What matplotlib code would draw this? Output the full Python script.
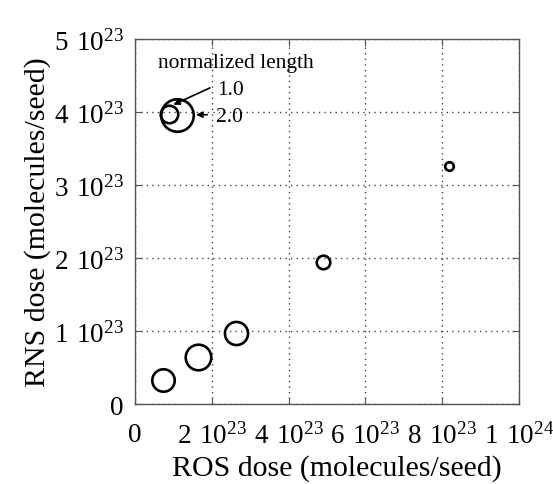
import numpy as np
import matplotlib
matplotlib.use('Agg')
import matplotlib.pyplot as plt
from matplotlib.ticker import FuncFormatter

plt.rcParams['font.family'] = 'Liberation Serif'
plt.rcParams['mathtext.fontset'] = 'custom'
plt.rcParams['mathtext.rm'] = 'Liberation Serif'

# ROS / RNS dose per seed, bubble size = normalized length
ros = [0.072e24, 0.165e24, 0.262e24, 0.490e24, 0.818e24]
rns = [0.333e23, 0.64e23, 0.968e23, 1.94e23, 3.26e23]
length = [1.36, 1.55, 1.40, 0.82, 0.52]

xticks = [0, 2e23, 4e23, 6e23, 8e23, 1e24]
yticks = [0, 1e23, 2e23, 3e23, 4e23, 5e23]

legend_len = [1.0, 2.0]

px_per_len = 16.5 * 0.72   # marker diameter in points per unit length


def fmt(v, pos):
    if v == 0:
        return '0'
    e = int(np.floor(np.log10(v) + 1e-9))
    m = v / 10**e
    return r'$\mathregular{%d\ 10^{%d}}$' % (round(m), e)


fig = plt.figure(figsize=(5.53, 4.85), dpi=100)
ax = fig.add_axes([0.2441, 0.1649, 0.6944, 0.7526])

for xi, yi, li in zip(ros, rns, length):
    ax.plot(xi, yi, 'o', ms=li * px_per_len, mfc='none', mec='black', mew=1.9)

# size legend
ax.plot(0.1086e24, 3.955e23, 'o', ms=legend_len[1] * px_per_len * 0.985,
        mfc='none', mec='black', mew=1.9)
ax.plot(0.0885e24, 3.97e23, 'o', ms=legend_len[0] * px_per_len * 1.06,
        mfc='none', mec='black', mew=1.9)
ax.text(0.059e24, 4.68e23, 'normalized length', fontsize=15.5, va='center')
ax.text(0.2128e24, 4.315e23, '%.1f' % legend_len[0], fontsize=15.5, va='center')
ax.text(0.2109e24, 3.945e23, '%.1f' % legend_len[1], fontsize=15.5, va='center')
ax.annotate('', xy=(0.0997e24, 4.10e23), xytext=(0.195e24, 4.33e23),
            arrowprops=dict(arrowstyle='-|>', color='black', lw=1.2, mutation_scale=9,
                            shrinkA=0, shrinkB=0))
ax.annotate('', xy=(0.159e24, 3.963e23), xytext=(0.188e24, 3.963e23),
            arrowprops=dict(arrowstyle='-|>', color='black', lw=1.2, mutation_scale=9,
                            shrinkA=0, shrinkB=0))

ax.set_xlim(0, 1e24)
ax.set_ylim(0, 5e23)
ax.set_xticks(xticks)
ax.set_yticks(yticks)
ax.xaxis.set_major_formatter(FuncFormatter(fmt))
ax.yaxis.set_major_formatter(FuncFormatter(fmt))
ax.tick_params(direction='in', length=5, color='#555555', labelsize=19.5,
               top=True, right=True)
ax.tick_params(axis='x', pad=13)
ax.tick_params(axis='y', pad=8)
ax.grid(True, color='#444444', linestyle=(0, (1, 3)), linewidth=1)
for s in ax.spines.values():
    s.set_color('#555555')
    s.set_linewidth(1)

ax.set_xlabel('ROS dose (molecules/seed)', fontsize=21.5)
ax.set_ylabel('RNS dose (molecules/seed)', fontsize=21.5, labelpad=2)
ax.xaxis.set_label_coords(0.526, -0.138)

fig.savefig('out.png', dpi=100)
